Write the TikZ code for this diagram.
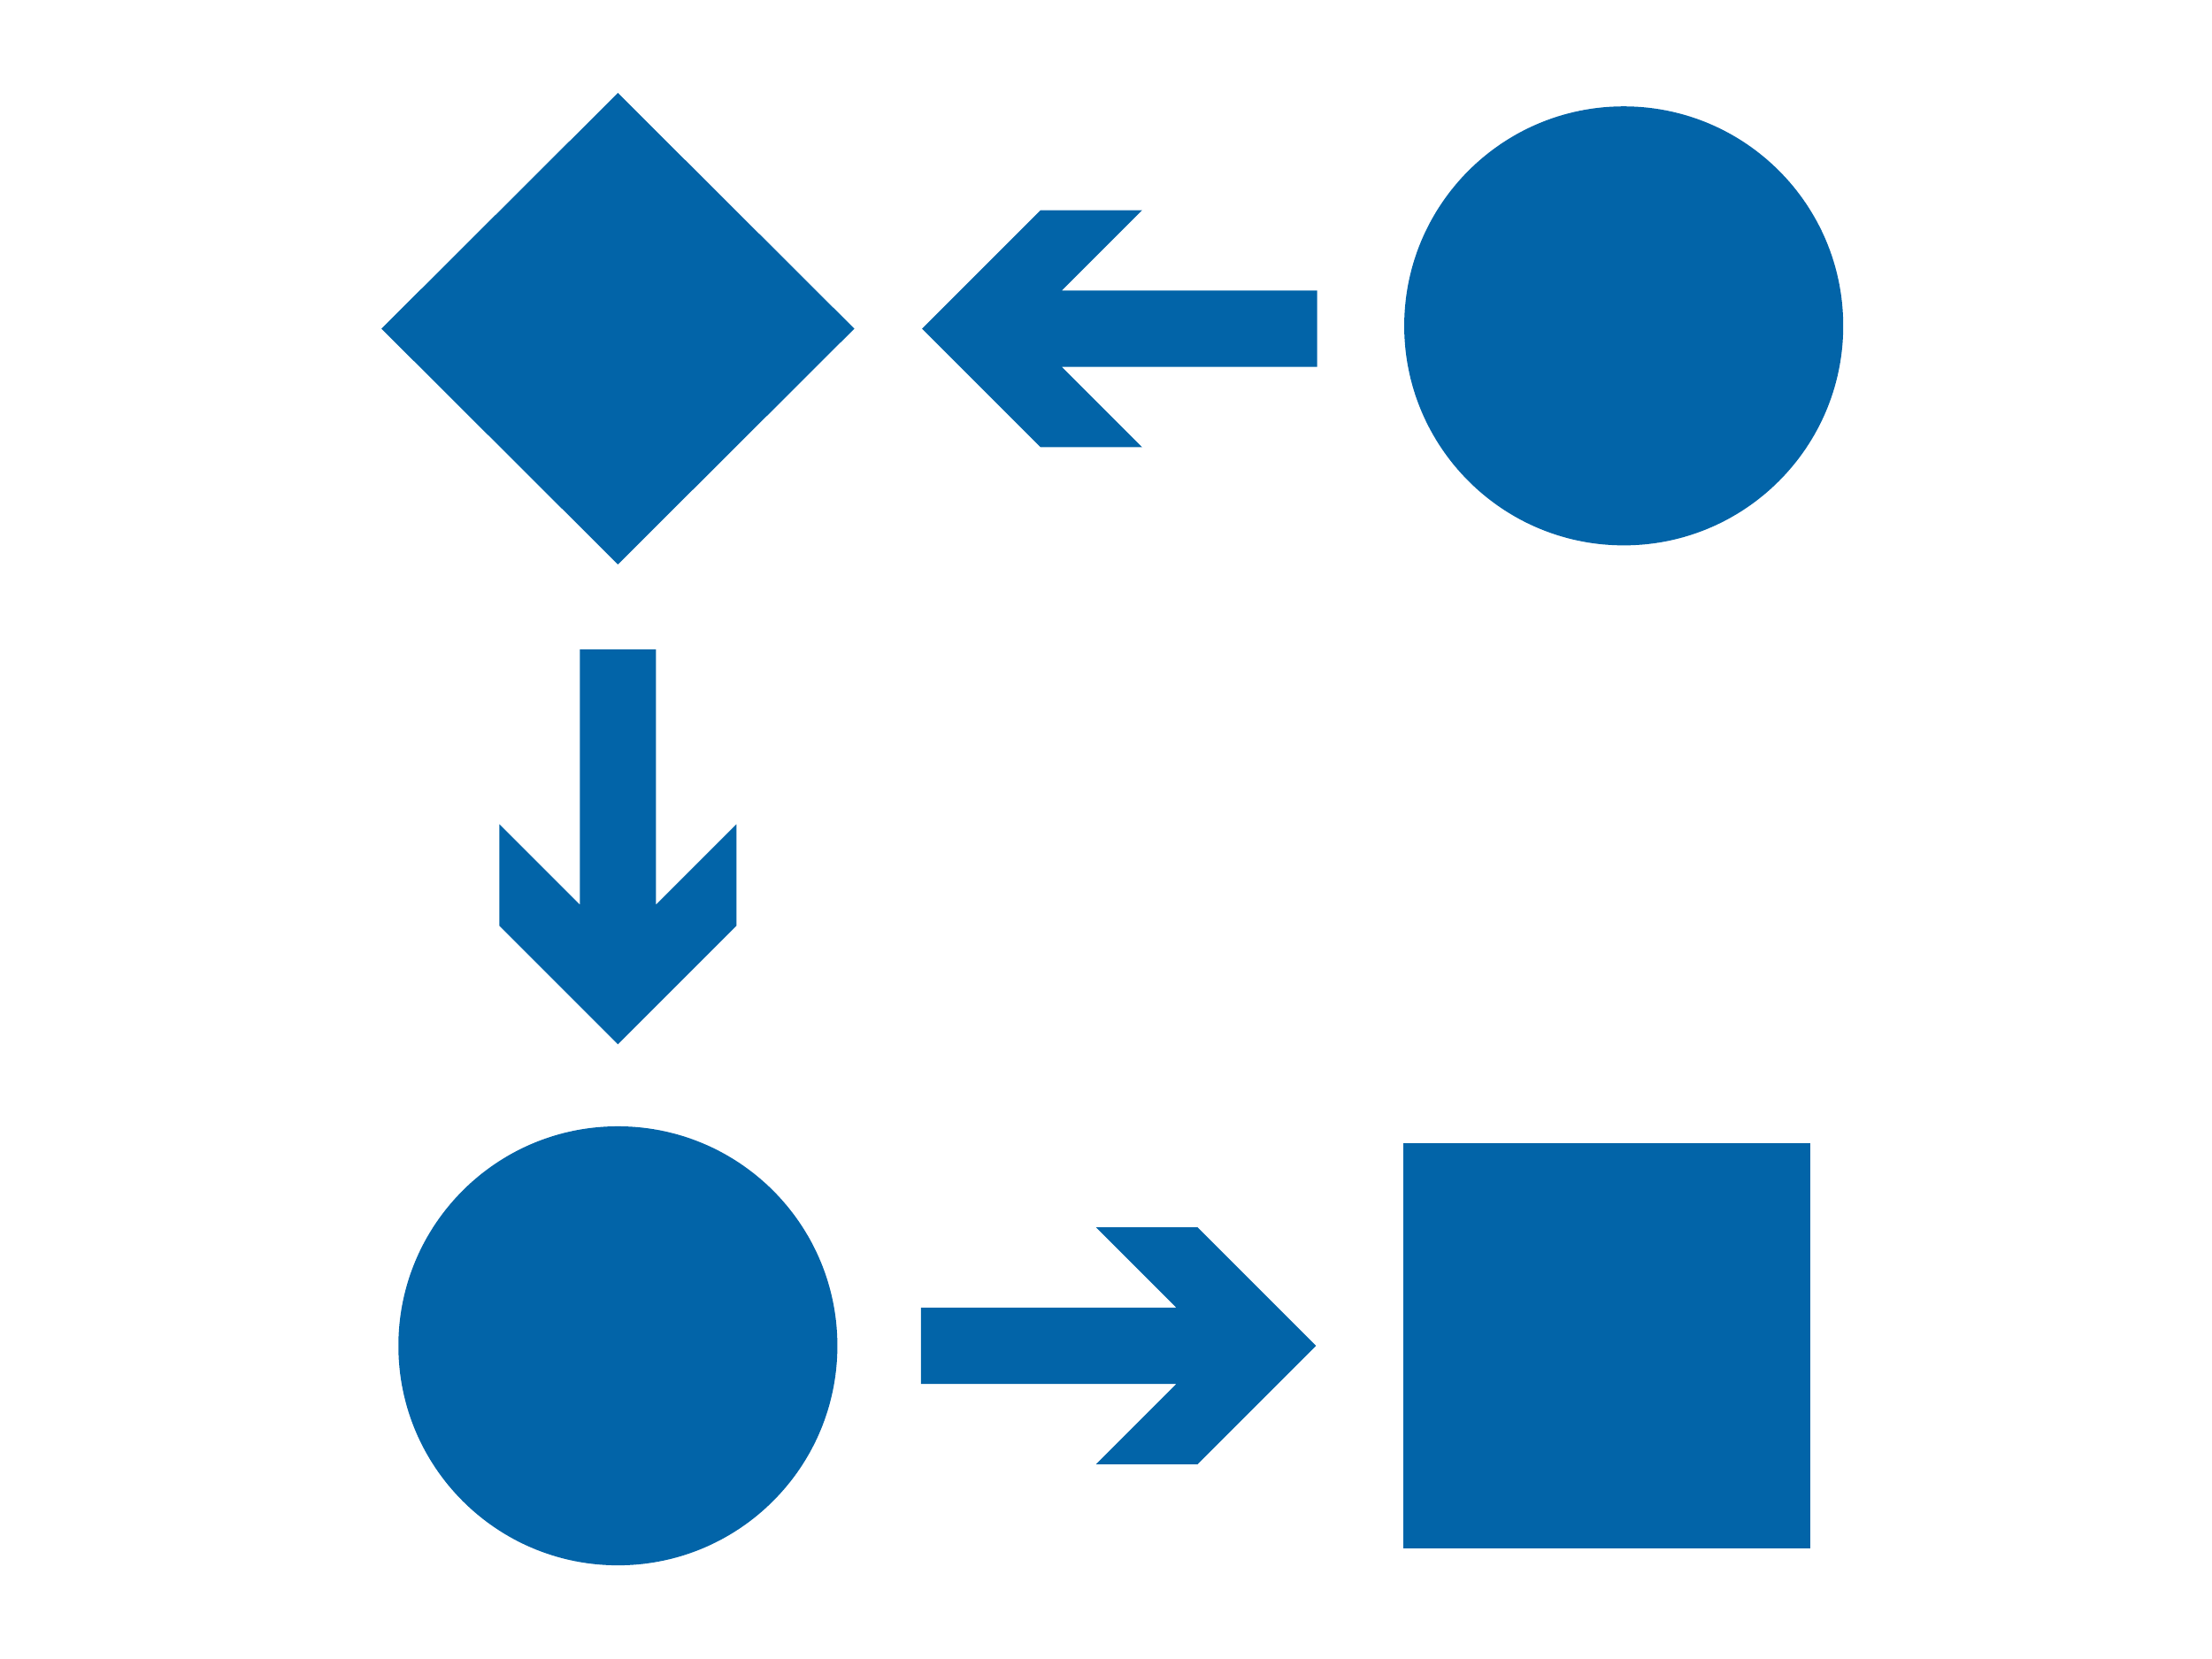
\documentclass[tikz,border=0pt]{standalone}
\usetikzlibrary{shapes.geometric,positioning}
\definecolor{shapeblue}{HTML}{0264A8}
\begin{document}
\begin{tikzpicture}[x=0.01cm,y=-0.01cm,inner sep=0pt,outer sep=0pt,
shapefill/.style={fill=shapeblue,draw=none},
bigdiamond/.style={shapefill,diamond,minimum width=3.35cm,minimum height=3.34cm},
bigcircle/.style={shapefill,circle,minimum size=3.11cm},
bigsquare/.style={shapefill,rectangle,minimum width=2.88cm,minimum height=2.87cm}]
\useasboundingbox (0,0) rectangle (1568,1176);
\draw (438,233) node[bigdiamond] (D1) {};
\draw (1151,231) node[bigcircle] (C1) {};
\draw (438,954) node[bigcircle] (C2) {};
\draw (1139,954) node[bigsquare] (S1) {};

% arrow tips
\coordinate (tipA) at ([xshift=0.48cm]D1.east);
\coordinate (tipB) at ([yshift=-3.40cm]D1.south);
\coordinate (tipC) at ([xshift=-0.62cm]S1.west);

\fill[shapeblue] (tipA) -- ++(84,-84) -- ++(72,0) -- ++(-57,57) -- ++(181,0)
  -- ++(0,54) -- ++(-181,0) -- ++(57,57) -- ++(-72,0) -- cycle;
\fill[shapeblue] (tipB) -- ++(84,-84) -- ++(0,-72) -- ++(-57,57) -- ++(0,-181)
  -- ++(-54,0) -- ++(0,181) -- ++(-57,-57) -- ++(0,72) -- cycle;
\fill[shapeblue] (tipC) -- ++(-84,-84) -- ++(-72,0) -- ++(57,57) -- ++(-181,0)
  -- ++(0,54) -- ++(181,0) -- ++(-57,57) -- ++(72,0) -- cycle;
\end{tikzpicture}
\end{document}
